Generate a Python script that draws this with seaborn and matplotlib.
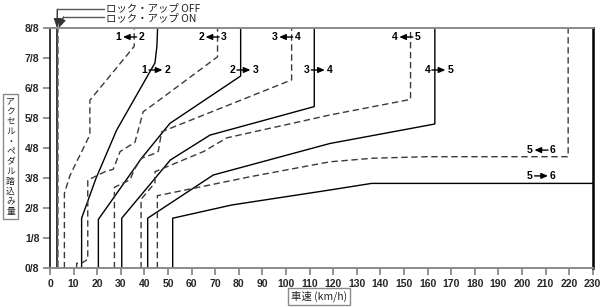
import matplotlib
matplotlib.use("Agg")
import matplotlib.pyplot as plt
import matplotlib.transforms as mtransforms
import seaborn as sns

sns.set_theme(style="white")
plt.rcParams['font.family'] = ['Liberation Sans', 'Noto Sans CJK JP', 'DejaVu Sans']

# ---------------- data (speed km/h, accelerator opening in eighths) ----------------
up12_v = [13.4, 13.4, 19.5, 28.2, 44.5, 45.3, 45.6]
up12_f = [0, 1.67, 3.0, 4.6, 6.85, 7.4, 8]
down12_v = [6.1, 6.1, 8.5, 16.9, 16.9, 35.7, 35.7]
down12_f = [0, 2.5, 3.1, 4.45, 5.6, 7.4, 8]

up23_v = [20.5, 20.5, 38.8, 50.8, 80.8, 80.8]
up23_f = [0, 1.63, 3.67, 4.83, 6.41, 8]
down23_v = [11.3, 11.3, 13.4, 16.0, 16.0, 23.3, 26.8, 29.7, 36.0, 39.5, 44.5, 71.0, 71.0]
down23_f = [0, 0.17, 0.17, 0.3, 2.94, 3.22, 3.3, 3.89, 4.2, 5.22, 5.5, 7.05, 8]

up34_v = [30.4, 30.4, 51.0, 67.8, 112.0, 112.0]
up34_f = [0, 1.67, 3.61, 4.44, 5.39, 8]
down34_v = [27.3, 27.3, 33.9, 36.0, 38.8, 44.5, 45.9, 47.3, 102.4, 102.4]
down34_f = [0, 2.7, 2.95, 3.33, 3.67, 3.83, 3.9, 4.55, 6.28, 8]

up45_v = [41.4, 41.4, 69.2, 118.6, 163.1, 163.1]
up45_f = [0, 1.67, 3.11, 4.16, 4.81, 8]
down45_v = [38.6, 38.6, 44.5, 44.5, 65.0, 75.0, 118.6, 152.8, 152.8]
down45_f = [0, 2.3, 2.85, 3.22, 3.89, 4.35, 5.11, 5.63, 8]

up56_v = [52.0, 52.0, 77.0, 118.6, 136.3, 230.0]
up56_f = [0, 1.67, 2.11, 2.61, 2.83, 2.83]
down56_v = [45.5, 45.5, 84.7, 118.6, 137.0, 160.0, 219.6, 219.6]
down56_f = [0, 2.42, 3.05, 3.55, 3.67, 3.72, 3.72, 8]

lockup_off_v = [3.0, 3.0]
lockup_on_v = [3.6, 3.6]
lockup_f = [0, 8]

x_ticks = list(range(0, 231, 10))
y_ticks = list(range(0, 9))
y_labels = [f"{i}/8" for i in y_ticks]

# shift labels: (low gear, high gear, label centre speed, level, upshift?)
shift_labels = [
    ("1", "2", 33.9, 7.71, False), ("1", "2", 44.9, 6.61, True),
    ("2", "3", 68.9, 7.71, False), ("2", "3", 82.2, 6.61, True),
    ("3", "4", 100.1, 7.71, False), ("3", "4", 113.7, 6.61, True),
    ("4", "5", 151.0, 7.71, False), ("4", "5", 164.8, 6.61, True),
    ("5", "6", 208.3, 3.94, False), ("5", "6", 208.3, 3.08, True),
]

# ---------------- figure ----------------
fig = plt.figure(figsize=(6.05, 3.07), dpi=100)
W, H = 605, 307
ax = fig.add_axes([50 / W, 1 - 268.3 / H, (592.7 - 50) / W, (268.3 - 28.3) / H])

dash = (0, (4.6, 2.6))
solid_kw = dict(color="black", linewidth=1.0, estimator=None, sort=False, ax=ax, legend=False)
dash_kw = dict(color="#3a3a3a", linewidth=1.0, estimator=None, sort=False, ax=ax, legend=False)

ups = [(up12_v, up12_f), (up23_v, up23_f), (up34_v, up34_f), (up45_v, up45_f), (up56_v, up56_f)]
downs = [(down12_v, down12_f), (down23_v, down23_f), (down34_v, down34_f),
         (down45_v, down45_f), (down56_v, down56_f)]
for v, f in ups:
    sns.lineplot(x=v, y=f, **solid_kw)
for v, f in downs:
    l = sns.lineplot(x=v, y=f, **dash_kw)
    l.lines[-1].set_linestyle(dash)

sns.lineplot(x=lockup_off_v, y=lockup_f, color="black", linewidth=1.1, estimator=None, sort=False, ax=ax)
l = sns.lineplot(x=lockup_on_v, y=lockup_f, color="#666666", linewidth=1.1, estimator=None, sort=False, ax=ax)
l.lines[-1].set_linestyle((0, (5, 2)))

ax.set_xlim(0, 230)
ax.set_ylim(0, 8)
ax.set_xticks(x_ticks)
ax.set_xticklabels([str(t) for t in x_ticks])
ax.set_yticks(y_ticks)
ax.set_yticklabels(y_labels)
ax.tick_params(axis="both", which="both", direction="out", length=5, width=1.3,
               color="#8a8a8a", labelsize=7.5, pad=2.5, bottom=True, left=True)
for lab in ax.get_xticklabels() + ax.get_yticklabels():
    lab.set_fontweight("bold")
ax.set_xlabel("")
ax.set_ylabel("")
for s in ["top", "bottom"]:
    ax.spines[s].set_color("#8a8a8a")
    ax.spines[s].set_linewidth(1.4)
ax.spines["left"].set_color("black")
ax.spines["left"].set_linewidth(1.1)
ax.spines["right"].set_color("black")
ax.spines["right"].set_linewidth(1.8)

# shift labels with arrows
for lo, hi, v, f, up in shift_labels:
    t_lo = mtransforms.offset_copy(ax.transData, fig=fig, x=-11.5, y=0, units="dots")
    t_hi = mtransforms.offset_copy(ax.transData, fig=fig, x=11.5, y=0, units="dots")
    ax.text(v, f, lo, transform=t_lo, ha="center", va="center", fontsize=7.5,
            fontweight="bold", color="black")
    ax.text(v, f, hi, transform=t_hi, ha="center", va="center", fontsize=7.5,
            fontweight="bold", color="black")
    a = mtransforms.offset_copy(ax.transData, fig=fig, x=-7, y=0, units="dots")
    b = mtransforms.offset_copy(ax.transData, fig=fig, x=6.5, y=0, units="dots")
    head, tail = (b, a) if up else (a, b)
    ax.annotate("", xy=(v, f), xycoords=head, xytext=(v, f), textcoords=tail,
                arrowprops=dict(arrowstyle="-|>,head_length=0.32,head_width=0.14",
                                color="black", lw=1.0, shrinkA=0, shrinkB=0))

# lock-up leaders and texts (figure pixel layout)
def fx(px):
    return px / W

def fy(py):
    return 1 - py / H

fig.text(fx(106), fy(8.5), "ロック・アップ OFF", fontsize=7.5, ha="left", va="center",
         color="#222222", family=["Noto Sans CJK JP", "DejaVu Sans"])
fig.text(fx(106), fy(18), "ロック・アップ ON", fontsize=7.5, ha="left", va="center",
         color="#222222", family=["Noto Sans CJK JP", "DejaVu Sans"])
fig.add_artist(plt.Line2D([fx(57.3), fx(104)], [fy(9.3), fy(9.3)], color="#555555", lw=1.0))
ax.annotate("", xy=(lockup_off_v[0], 8), xycoords="data",
            xytext=(fx(57.3), fy(9.3)), textcoords="figure fraction",
            arrowprops=dict(arrowstyle="-|>,head_length=0.45,head_width=0.16", color="#333333",
                            lw=1.0, shrinkA=0, shrinkB=0), annotation_clip=False)
fig.add_artist(plt.Line2D([fx(63.5), fx(104)], [fy(17), fy(17)], color="#555555", lw=1.0))
ax.annotate("", xy=(lockup_on_v[0], 8), xycoords="data",
            xytext=(fx(63.5), fy(17)), textcoords="figure fraction",
            arrowprops=dict(arrowstyle="-|>,head_length=0.45,head_width=0.16", color="#333333",
                            lw=1.0, shrinkA=0, shrinkB=0), annotation_clip=False)

# axis titles in boxes
fig.text(fx(10.5), fy(156.5), "\n".join("アクセル・ペダル踏込み量"), fontsize=6.3,
         ha="center", va="center", linespacing=1.15, color="#222222",
         family=["Noto Sans CJK JP", "DejaVu Sans"],
         bbox=dict(boxstyle="square,pad=0.35", facecolor="white", edgecolor="#8a8a8a", lw=1.0))
fig.text(fx(319), fy(296.5), "車速 (km/h)", fontsize=7.5, ha="center", va="center",
         color="#222222", family=["Noto Sans CJK JP", "DejaVu Sans"],
         bbox=dict(boxstyle="square,pad=0.3", facecolor="white", edgecolor="#8a8a8a", lw=1.0))

fig.savefig("out.png", dpi=100)
